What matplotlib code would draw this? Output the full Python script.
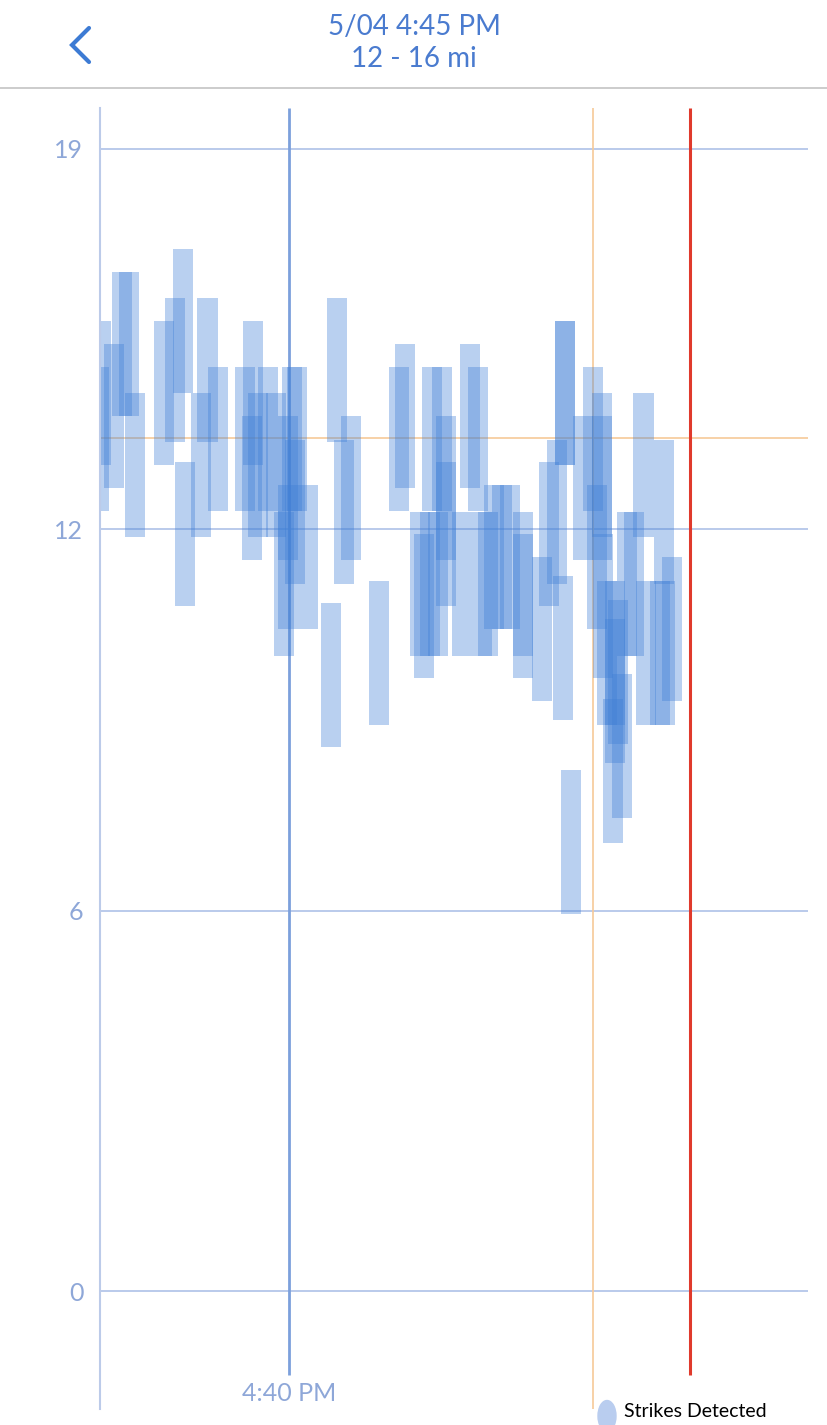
import numpy as np
import matplotlib.pyplot as plt
from matplotlib.lines import Line2D
from matplotlib.patches import Circle

# strike bars: time in seconds from 4:40 PM, distance centre in mi
strike_t = [-141, -142, -131, -125, -120, -115, -93.5, -85, -79, -78,
            -66, -61, -53, -33, -27, -28, -23, -16, -10, 2,
            6, -1, -1, 14, 4.5, -4, 31, 36, 46, 41,
            67, 82, 87, 107, 114, 117, 117, 135, 141, 98,
            105.5, 111, 101, 129, 144, 149, 153, 159, 165, 175,
            175, 189, 194, 200, 205, 206, 206, 211, 220, 227,
            234, 234, 230, 235, 238, 244, 246, 244, 242, 249,
            253, 258, 265, 267, 277, 281, 280, 286]
strike_d = [14.94, 14.18, 14.56, 15.76, 15.76, 13.74, 14.94, 15.32, 16.14, 12.60,
            13.74, 15.32, 14.18, 14.18, 14.94, 13.36, 13.74, 14.18, 13.74, 14.18,
            14.18, 13.36, 12.21, 12.21, 12.96, 11.76, 10.25, 15.32, 13.36, 12.96,
            10.62, 14.18, 14.56, 14.18, 14.18, 13.36, 12.60, 14.56, 14.18, 11.76,
            11.76, 11.76, 11.40, 11.76, 11.76, 11.76, 12.21, 12.21, 12.21, 11.76,
            11.40, 11.01, 12.60, 12.96, 10.70, 14.94, 14.94, 7.47, 13.36, 14.18,
            13.74, 13.36, 12.21, 11.40, 10.62, 10.62, 10.30, 9.98, 8.65, 9.07,
            11.76, 11.76, 13.74, 10.62, 10.62, 10.62, 12.96, 11.01]
spread = 1.2       # half height of each bar, mi
bin_width = 15     # seconds

ytick_vals = [0, 6.33, 12.67, 19]
ytick_labels = ["0", "6", "12", "19"]
avg_dist = 14.19
avg_time = 227
now_time = 300

fig = plt.figure(figsize=(8.28, 14.25), dpi=100)
W, H = 828, 1425

# header
fig.text(414 / W, 1 - 27 / H, "5/04 4:45 PM", ha='center', va='center',
         fontsize=20, color='#4a7bcf', family='Lato')
fig.text(414 / W, 1 - 59 / H, "12 - 16 mi", ha='center', va='center',
         fontsize=20, color='#4a7bcf', family='Lato')
fig.add_artist(Line2D([89 / W, 72 / W, 89 / W], [1 - 28 / H, 1 - 45 / H, 1 - 62 / H],
                      color='#3d7bd4', lw=3, solid_capstyle='round', solid_joinstyle='miter'))
fig.add_artist(Line2D([0, 1], [1 - 88 / H, 1 - 88 / H], color='#c4c4c4', lw=1.2))

ax = fig.add_axes([100 / W, 1 - 1409 / H, 708 / W, 1301 / H])
ax.set_xlim(-141.4, 388)
ax.set_ylim(-1.96, 19.68)

for v in ytick_vals:
    ax.axhline(v, color='#a7bce6', lw=1.1, zorder=1)
ax.axhline(avg_dist, color='#f6c998', lw=1.2, zorder=1)
ax.axvline(avg_time, color='#f6c998', lw=1.2, zorder=1)
ax.vlines(0, -1.40, 19.68, color='#7ca0dc', lw=2, zorder=1)
ax.vlines(now_time, -1.40, 19.68, color='#e03a2c', lw=2.2, zorder=4)

ax.bar(strike_t, [2 * spread] * len(strike_t),
       bottom=[d - spread for d in strike_d], width=bin_width,
       color='#3f7fd6', alpha=0.36, linewidth=0, zorder=2)

for s in ['top', 'right', 'bottom']:
    ax.spines[s].set_visible(False)
ax.spines['left'].set_color('#bccbe9')
ax.spines['left'].set_linewidth(1.5)

ax.set_yticks(ytick_vals)
ax.set_yticklabels(ytick_labels, fontsize=18, color='#8ea7d8', family='Lato')
ax.tick_params(axis='y', length=0, pad=12)
ax.set_xticks([])

ax.text(0, -1.70, "4:40 PM", ha='center', va='center', fontsize=18,
        color='#8ea7d8', family='Lato')

# legend at the bottom edge
fig.add_artist(Circle((607 / W, 1 - 1416 / H), 9 / W, color='#b9cdef',
                      transform=fig.transFigure))
fig.text(624 / W, 1 - 1403 / H, "Strikes Detected", ha='left', va='top',
         fontsize=14, color='black', family='Lato')

fig.savefig("out.png", dpi=100)
